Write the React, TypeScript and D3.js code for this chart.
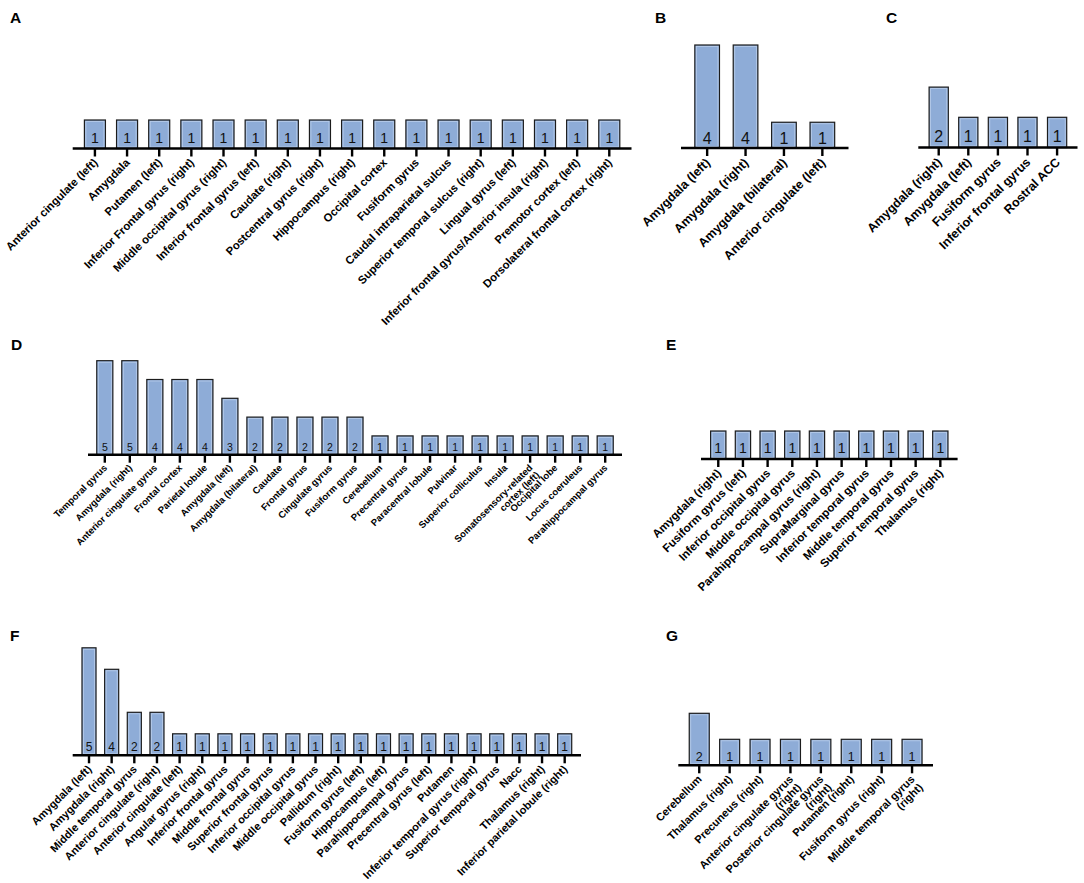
import React from 'react';
import * as d3 from 'd3';

// ---------- DATA ----------
const aCategories = [
  'Anterior cingulate (left)', 'Amygdala', 'Putamen (left)', 'Inferior Frontal gyrus (right)',
  'Middle occipital gyrus (right)', 'Inferior frontal gyrus (left)', 'Caudate (right)',
  'Postcentral gyrus (right)', 'Hippocampus (right)', 'Occipital cortex', 'Fusiform gyrus',
  'Caudal intraparietal sulcus', 'Superior temporal sulcus (right)', 'Lingual gyrus (left)',
  'Inferior frontal gyrus/Anterior insula (right)', 'Premotor cortex (left)',
  'Dorsolateral frontal cortex (right)',
];
const aValues = [1, 1, 1, 1, 1, 1, 1, 1, 1, 1, 1, 1, 1, 1, 1, 1, 1];

const bCategories = ['Amygdala (left)', 'Amygdala (right)', 'Amygdala (bilateral)', 'Anterior cingulate (left)'];
const bValues = [4, 4, 1, 1];

const cCategories = ['Amygdala (right)', 'Amygdala (left)', 'Fusiform gyrus', 'Inferior frontal gyrus', 'Rostral ACC'];
const cValues = [2, 1, 1, 1, 1];

const dCategories = [
  'Temporal gyrus', 'Amygdala (right)', 'Anterior cingulate gyrus', 'Frontal cortex', 'Parietal lobule',
  'Amygdala (left)', 'Amygdala (bilateral)', 'Caudate', 'Frontal gyrus', 'Cingulate gyrus', 'Fusiform gyrus',
  'Cerebellum', 'Precentral gyrus', 'Paracentral lobule', 'Pulvinar', 'Superior colliculus', 'Insula',
  'Somatosensory-related\ncortex (left)', 'Occipital lobe', 'Locus coeruleus', 'Parahippocampal gyrus',
];
const dValues = [5, 5, 4, 4, 4, 3, 2, 2, 2, 2, 2, 1, 1, 1, 1, 1, 1, 1, 1, 1, 1];

const eCategories = [
  'Amygdala (right)', 'Fusiform gyrus (left)', 'Inferior occipital gyrus', 'Middle occipital gyrus',
  'Parahippocampal gyrus (right)', 'SupraMarginal gyrus', 'Inferior temporal gyrus',
  'Middle temporal gyrus', 'Superior temporal gyrus', 'Thalamus (right)',
];
const eValues = [1, 1, 1, 1, 1, 1, 1, 1, 1, 1];

const fCategories = [
  'Amygdala (left)', 'Amygdala (right)', 'Middle temporal gyrus', 'Anterior cingulate (right)',
  'Anterior cingulate (left)', 'Angular gyrus (right)', 'Inferior frontal gyrus', 'Middle frontal gyrus',
  'Superior frontal gyrus', 'Inferior occipital gyrus', 'Middle occipital gyrus', 'Pallidum (right)',
  'Fusiform gyrus (left)', 'Hippocampus (left)', 'Parahippocampal gyrus', 'Precentral gyrus (left)',
  'Putamen', 'Inferior temporal gyrus (right)', 'Superior temporal gyrus', 'Nacc', 'Thalamus (right)',
  'Inferior parietal lobule (right)',
];
const fValues = [5, 4, 2, 2, 1, 1, 1, 1, 1, 1, 1, 1, 1, 1, 1, 1, 1, 1, 1, 1, 1, 1];

const gCategories = [
  'Cerebellum', 'Thalamus (right)', 'Precuneus (right)', 'Anterior cingulate gyrus\n(right)',
  'Posterior cingulate gyrus\n(right)', 'Putamen (right)', 'Fusiform gyrus (right)', 'Middle temporal gyrus\n(right)',
];
const gValues = [2, 1, 1, 1, 1, 1, 1, 1];

// ---------- LAYOUT ----------
const panels = [
  { letter: 'A', lx: 10, ly: 23, cats: aCategories, vals: aValues, r0: 72.7, r1: 631.5, pi: 0.346, po: 0.364, axisY: 148.5, unit: 28.5, valFs: 14, valDy: 6, catFs: 11.3 },
  { letter: 'B', lx: 655, ly: 23, cats: bCategories, vals: bValues, r0: 681, r1: 848.5, pi: 0.358, po: 0.36, axisY: 148, unit: 25.75, valFs: 16, valDy: 4.5, catFs: 12.5 },
  { letter: 'C', lx: 886, ly: 23, cats: cCategories, vals: cValues, r0: 918.3, r1: 1077.5, pi: 0.351, po: 0.365, axisY: 147.5, unit: 30.2, valFs: 16, valDy: 5.5, catFs: 12.5 },
  { letter: 'D', lx: 11, ly: 349.5, cats: dCategories, vals: dValues, r0: 88, r1: 622, pi: 0.357, po: 0.35, axisY: 454.7, unit: 18.8, valFs: 10.5, valDy: 4, catFs: 9.5 },
  { letter: 'E', lx: 666, ly: 349.5, cats: eCategories, vals: eValues, r0: 701, r1: 957.6, pi: 0.38, po: 0.39, axisY: 459, unit: 28, valFs: 14, valDy: 6, catFs: 11.5 },
  { letter: 'F', lx: 10, ly: 641, cats: fCategories, vals: fValues, r0: 72.7, r1: 581, pi: 0.38, po: 0.41, axisY: 755.3, unit: 21.5, valFs: 12, valDy: 4.5, catFs: 11 },
  { letter: 'G', lx: 666, ly: 641, cats: gCategories, vals: gValues, r0: 678.3, r1: 933, pi: 0.342, po: 0.36, axisY: 765.3, unit: 26, valFs: 12.5, valDy: 4.5, catFs: 11 },
];

const FONT = "'Liberation Sans', Arial, Helvetica, sans-serif";
const BAR_FILL = '#8EACD7';
const BAR_STROKE = '#1c1c1c';

function Panel({ cfg }: { cfg: any }) {
  const idx = cfg.cats.map((_: string, i: number) => String(i));
  const x = d3.scaleBand().domain(idx).range([cfg.r0, cfg.r1]).paddingInner(cfg.pi).paddingOuter(cfg.po);
  const y = d3.scaleLinear().domain([0, 1]).range([cfg.axisY, cfg.axisY - cfg.unit]);
  const bw = x.bandwidth();
  const [ax0, ax1] = x.range();
  return (
    <g>
      <text x={cfg.lx} y={cfg.ly} fontFamily={FONT} fontWeight="bold" fontSize={15.5} fill="#000">{cfg.letter}</text>
      {cfg.vals.map((v: number, i: number) => {
        const bx = x(String(i)) as number;
        const top = y(v);
        const h = y(0) - top;
        return (
          <g key={i}>
            <rect x={bx} y={top} width={bw} height={h} fill={BAR_FILL} stroke={BAR_STROKE} strokeWidth={1.2} />
            <rect x={bx + 1.5} y={top + 1.5} width={bw - 3} height={h - 3} fill="none" stroke="#b9cdea" strokeWidth={0.8} />
            <text x={bx + bw / 2} y={cfg.axisY - cfg.valDy} textAnchor="middle" fontFamily={FONT} fontSize={cfg.valFs} fill="#111">{v}</text>
          </g>
        );
      })}
      <line x1={ax0} x2={ax1} y1={cfg.axisY} y2={cfg.axisY} stroke="#000" strokeWidth={2.6} />
      {cfg.cats.map((c: string, i: number) => {
        const cx = (x(String(i)) as number) + bw / 2;
        const lines = c.split('\n');
        const px = cx + cfg.catFs * 0.3;
        const py = cfg.axisY + 8 + cfg.catFs * 0.6;
        return (
          <g key={'t' + i}>
            <line x1={cx} x2={cx} y1={cfg.axisY} y2={cfg.axisY + 8} stroke="#000" strokeWidth={2.4} />
            <text transform={`translate(${px},${py}) rotate(-45)`} textAnchor="end" fontFamily={FONT} fontWeight="bold" fontSize={cfg.catFs} fill="#000">
              {lines.map((ln, k) => (
                <tspan key={k} x={0} dy={k === 0 ? 0 : '1.05em'}>{ln}</tspan>
              ))}
            </text>
          </g>
        );
      })}
    </g>
  );
}

export default function App() {
  return (
    <svg width={1084} height={883} viewBox="0 0 1084 883" style={{ position: 'absolute', left: 0, top: 0, background: '#fff' }}>
      <rect x={0} y={0} width={1084} height={883} fill="#fff" />
      {panels.map((p) => <Panel key={p.letter} cfg={p} />)}
    </svg>
  );
}
